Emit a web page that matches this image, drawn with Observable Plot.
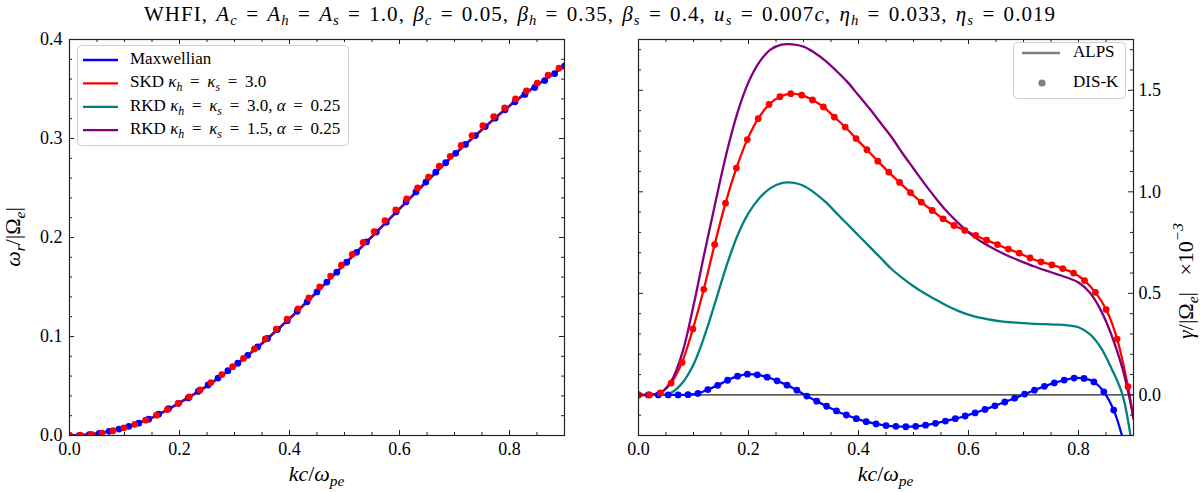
<!DOCTYPE html>
<html><head><meta charset="utf-8">
<script src="https://cdn.jsdelivr.net/npm/d3@7"></script>
<script src="https://cdn.jsdelivr.net/npm/@observablehq/plot@0.6"></script>
<style>
body{margin:0;background:#fff;}
#wrap{position:relative;width:1200px;height:492px;overflow:hidden;font-family:"Liberation Serif",serif;color:#000;}
#titlebox{position:absolute;left:0;top:2px;width:1200px;text-align:center;}
#title{display:inline-block;font-size:21px;white-space:nowrap;}
#title sub{font-size:0.7em;vertical-align:-0.3em;line-height:0;}
#left,#right{position:absolute;top:28px;}
#left{left:0px}
#right{left:600px}
</style></head><body>
<div id="wrap">
<div id="titlebox"><span id="title">WHFI, <i>A</i><sub><i>c</i></sub> = <i>A</i><sub><i>h</i></sub> = <i>A</i><sub><i>s</i></sub> = 1.0, <i>β</i><sub><i>c</i></sub> = 0.05, <i>β</i><sub><i>h</i></sub> = 0.35, <i>β</i><sub><i>s</i></sub> = 0.4, <i>u</i><sub><i>s</i></sub> = 0.007<i>c</i>, <i>η</i><sub><i>h</i></sub> = 0.033, <i>η</i><sub><i>s</i></sub> = 0.019</span></div>
<div id="left"></div><div id="right"></div>
</div>
<script>
// ---------- data: real frequency (left panel) ----------
const kLine = [0,0.05,0.1,0.15,0.2,0.25,0.3,0.35,0.4,0.45,0.5,0.55,0.6,0.65,0.7,0.75,0.8,0.85,0.9];
const wMaxwellian = [0,0.002,0.008,0.018,0.033,0.050,0.070,0.093,0.118,0.145,0.173,0.201,0.229,0.257,0.284,0.309,0.333,0.354,0.373];
const wSKD = [0,0.002,0.008,0.018,0.033,0.050,0.070,0.093,0.118,0.145,0.173,0.201,0.229,0.257,0.284,0.309,0.333,0.354,0.373];
const wRKD3 = [0,0.002,0.008,0.018,0.033,0.050,0.070,0.093,0.118,0.145,0.173,0.201,0.229,0.257,0.284,0.309,0.333,0.354,0.373];
const wRKD15 = [0,0.002,0.008,0.018,0.033,0.050,0.070,0.093,0.118,0.145,0.173,0.201,0.229,0.257,0.284,0.309,0.333,0.354,0.373];

// DIS-K sample points
const kDotsMax = [0,0.018,0.036,0.054,0.072,0.09,0.108,0.126,0.144,0.162,0.18,0.198,0.216,0.234,0.252,0.27,0.288,0.306,0.324,0.342,0.36,0.378,0.396,0.414,0.432,0.45,0.468,0.486,0.504,0.522,0.54,0.558,0.576,0.594,0.612,0.63,0.648,0.666,0.684,0.702,0.72,0.738,0.756,0.774,0.792,0.81,0.828,0.846,0.864,0.882,0.9];
const wDotsMax = [0,0.0002,0.0008,0.002,0.0042,0.0065,0.0093,0.0125,0.0165,0.0215,0.027,0.0325,0.038,0.0445,0.051,0.058,0.0655,0.073,0.081,0.0895,0.098,0.107,0.116,0.1255,0.135,0.145,0.155,0.165,0.175,0.185,0.1955,0.2055,0.2155,0.226,0.236,0.246,0.256,0.266,0.2755,0.285,0.294,0.303,0.312,0.3205,0.329,0.337,0.3445,0.3515,0.3585,0.3655,0.373];
const kDotsSKD = [0,0.0198,0.0396,0.0593,0.0791,0.0989,0.1187,0.1384,0.1582,0.178,0.1978,0.2176,0.2373,0.2571,0.2769,0.2967,0.3164,0.3362,0.356,0.3758,0.3956,0.4153,0.4351,0.4549,0.4747,0.4944,0.5142,0.534,0.5538,0.5736,0.5933,0.6131,0.6329,0.6527,0.6724,0.6922,0.712,0.7318,0.7516,0.7713,0.7911,0.8109,0.8307,0.8504,0.8702,0.89];
const wDotsSKD = [0,0.0003,0.001,0.0024,0.0048,0.0078,0.0113,0.0155,0.0205,0.0262,0.0325,0.039,0.046,0.0535,0.0615,0.0695,0.078,0.0875,0.0975,0.1075,0.1175,0.128,0.139,0.15,0.161,0.172,0.183,0.195,0.206,0.217,0.228,0.239,0.25,0.261,0.272,0.282,0.293,0.303,0.313,0.322,0.331,0.34,0.348,0.356,0.364,0.371];

// ---------- data: growth rate (right panel, x 1e-3) ----------
const kGrowth = [0,0.02,0.04,0.06,0.08,0.1,0.12,0.14,0.16,0.18,0.2,0.22,0.24,0.26,0.28,0.3,0.32,0.34,0.36,0.38,0.4,0.42,0.44,0.46,0.48,0.5,0.52,0.54,0.56,0.58,0.6,0.62,0.64,0.66,0.68,0.7,0.72,0.74,0.76,0.78,0.8,0.82,0.84,0.86,0.88,0.9];
const gRKD3 = [0,0,0,0.012,0.06,0.15,0.29,0.46,0.635,0.785,0.895,0.97,1.018,1.043,1.045,1.03,0.995,0.95,0.895,0.84,0.785,0.73,0.675,0.62,0.575,0.535,0.5,0.47,0.44,0.415,0.395,0.38,0.37,0.362,0.357,0.353,0.35,0.348,0.346,0.342,0.333,0.3,0.235,0.13,0.0,-0.3];
const gRKD15 = [0,0,0.01,0.07,0.21,0.44,0.7,0.95,1.19,1.39,1.54,1.64,1.7,1.725,1.726,1.715,1.685,1.645,1.595,1.54,1.475,1.41,1.34,1.27,1.19,1.115,1.04,0.97,0.905,0.85,0.8,0.76,0.728,0.7,0.675,0.653,0.632,0.613,0.595,0.577,0.553,0.505,0.42,0.295,0.13,-0.11];
const gDotsMax = [0,0,0,0,0,0.001,0.007,0.026,0.047,0.072,0.092,0.102,0.099,0.087,0.069,0.048,0.023,-0.006,-0.031,-0.056,-0.079,-0.099,-0.117,-0.132,-0.143,-0.151,-0.155,-0.157,-0.155,-0.149,-0.14,-0.129,-0.117,-0.104,-0.089,-0.072,-0.054,-0.035,-0.016,0.004,0.023,0.042,0.059,0.073,0.083,0.081,0.064,0.015,-0.075,-0.23,-0.45];
const gDotsSKD = [0,0,0.01,0.058,0.16,0.325,0.52,0.74,0.944,1.117,1.257,1.36,1.43,1.468,1.483,1.476,1.452,1.418,1.368,1.319,1.262,1.207,1.151,1.097,1.046,0.996,0.949,0.908,0.867,0.834,0.81,0.785,0.762,0.74,0.718,0.698,0.674,0.655,0.64,0.622,0.6,0.563,0.505,0.42,0.275,0.04];
const kSKDTail = [0.9];
const gSKDTail = [-0.12];

// ---------- ticks & labels ----------
const xMajor = [0,0.2,0.4,0.6,0.8];
const xMinor = [0.05,0.1,0.15,0.25,0.3,0.35,0.45,0.5,0.55,0.65,0.7,0.75,0.85];
const wMajor = [0,0.1,0.2,0.3,0.4];
const wMinor = [0.02,0.04,0.06,0.08,0.12,0.14,0.16,0.18,0.22,0.24,0.26,0.28,0.32,0.34,0.36,0.38];
const gMajor = [0,0.5,1.0,1.5];
const gMinor = [-0.1,0.1,0.2,0.3,0.4,0.6,0.7,0.8,0.9,1.1,1.2,1.3,1.4,1.6,1.7];
const seriesNames = ["Maxwellian","SKD","RKD3","RKD15"];
const seriesColors = ["#0000ff","#ff0000","#008080","#800080"];
const methodNames = ["ALPS","DIS-K"];

const zip = (xs, ys) => xs.map((x, i) => ({x, y: ys[i]}));

const W = 600, H = 464, MT = 11, MB = 57;
const PH = H - MT - MB;
const TK = "#222";
const fmt = d3.format(".1f");
const EQ = "\u2009=\u2009";

// stretch title to the reference's width (wider Computer-Modern-like look)
{
  const t = document.getElementById("title");
  const txt = t.textContent;
  const nSpaces = (txt.match(/ /g) || []).length;
  const nChars = txt.length;
  t.style.wordSpacing = "2px";
  const w0 = t.getBoundingClientRect().width;
  t.style.letterSpacing = Math.max(0, (912 - w0) / nChars) + "px";
}

function tickMarks(yMaj, yMin, PW) {
  return [
    Plot.tickX(xMajor, {x: d => d, stroke: TK, insetTop: PH - 5}),
    Plot.tickX(xMinor, {x: d => d, stroke: TK, insetTop: PH - 3}),
    Plot.tickX(xMajor, {x: d => d, stroke: TK, insetBottom: PH - 5}),
    Plot.tickX(xMinor, {x: d => d, stroke: TK, insetBottom: PH - 3}),
    Plot.tickY(yMaj, {y: d => d, stroke: TK, insetRight: PW - 5}),
    Plot.tickY(yMin, {y: d => d, stroke: TK, insetRight: PW - 3}),
    Plot.tickY(yMaj, {y: d => d, stroke: TK, insetLeft: PW - 5}),
    Plot.tickY(yMin, {y: d => d, stroke: TK, insetLeft: PW - 3})
  ];
}

function mathText(g, x, y, parts, size, opts = {}) {
  const t = g.append("text")
    .attr("transform", `translate(${x},${y}) rotate(${opts.rotate || 0})`)
    .attr("text-anchor", opts.anchor || "middle")
    .attr("dominant-baseline", "middle")
    .attr("font-family", "Liberation Serif, serif")
    .attr("font-size", size)
    .attr("fill", "#000")
    .attr("xml:space", "preserve");
  let cur = 0;
  for (const [s, st] of parts) {
    const want = st === "s" ? 0.28 * size : st === "S" ? -0.42 * size : 0;
    const ts = t.append("tspan").text(s).attr("dy", want - cur);
    cur = want;
    if (st === "i" || st === "s" || st === "S") ts.attr("font-style", "italic");
    if (st === "s" || st === "S") ts.attr("font-size", size * 0.7);
  }
  return t;
}

// ---------- left panel ----------
const PWL = W - 69 - 36;
const left = Plot.plot({
  width: W, height: H, marginLeft: 69, marginRight: 36, marginTop: MT, marginBottom: MB,
  style: {fontFamily: "Liberation Serif, serif", fontSize: "18px", color: "#000", background: "transparent"},
  x: {domain: [0, 0.9]},
  y: {domain: [0, 0.4]},
  marks: [
    Plot.line(zip(kLine, wMaxwellian), {x: "x", y: "y", stroke: seriesColors[0], strokeWidth: 2.3, curve: "catmull-rom", clip: true}),
    Plot.line(zip(kLine, wSKD), {x: "x", y: "y", stroke: seriesColors[1], strokeWidth: 2.3, curve: "catmull-rom", clip: true}),
    Plot.line(zip(kLine, wRKD3), {x: "x", y: "y", stroke: seriesColors[2], strokeWidth: 2.3, curve: "catmull-rom", clip: true}),
    Plot.line(zip(kLine, wRKD15), {x: "x", y: "y", stroke: seriesColors[3], strokeWidth: 2.3, curve: "catmull-rom", clip: true}),
    Plot.dot(zip(kDotsMax, wDotsMax), {x: "x", y: "y", fill: seriesColors[0], r: 3.4, clip: true}),
    Plot.dot(zip(kDotsSKD, wDotsSKD), {x: "x", y: "y", fill: seriesColors[1], r: 3.4, clip: true}),
    ...tickMarks(wMajor, wMinor, PWL),
    Plot.axisX(xMajor, {tickSize: 0, tickPadding: 7, tickFormat: fmt, label: null}),
    Plot.axisY(wMajor, {anchor: "left", tickSize: 0, tickPadding: 7, tickFormat: fmt, label: null}),
    Plot.frame({stroke: TK, strokeWidth: 1.2})
  ]
});
document.getElementById("left").appendChild(left);
{
  const g = d3.select(left);
  mathText(g, 316.5, 448, [["kc","i"],["/"],["ω","i"],["pe","s"]], 22);
  mathText(g, 15, 209, [["ω","i"],["r","s"],["/|Ω"],["e","s"],["|"]], 22, {rotate: -90});
  // legend
  const lg = g.append("g");
  lg.append("rect").attr("x", 77.5).attr("y", 17.5).attr("width", 271).attr("height", 100).attr("rx", 4)
    .attr("fill", "#fff").attr("fill-opacity", 0.8).attr("stroke", "#d0d0d0");
  const rows = [
    [["Maxwellian"]],
    [["SKD "],["κ","i"],["h","s"],[" " + EQ + " "],["κ","i"],["s","s"],[" " + EQ + " 3.0"]],
    [["RKD "],["κ","i"],["h","s"],[" " + EQ + " "],["κ","i"],["s","s"],[" " + EQ + " 3.0, "],["α","i"],[" " + EQ + " 0.25"]],
    [["RKD "],["κ","i"],["h","s"],[" " + EQ + " "],["κ","i"],["s","s"],[" " + EQ + " 1.5, "],["α","i"],[" " + EQ + " 0.25"]]
  ];
  seriesNames.forEach((n, i) => {
    const yy = 32 + i * 23.4;
    lg.append("line").attr("x1", 83).attr("x2", 118).attr("y1", yy).attr("y2", yy)
      .attr("stroke", seriesColors[i]).attr("stroke-width", 2.3);
    mathText(lg, 130, yy, rows[i], 17, {anchor: "start"});
  });
}

// ---------- right panel ----------
const PWR = W - 38 - 67;
const right = Plot.plot({
  width: W, height: H, marginLeft: 38, marginRight: 67, marginTop: MT, marginBottom: MB,
  style: {fontFamily: "Liberation Serif, serif", fontSize: "18px", color: "#000", background: "transparent"},
  x: {domain: [0, 0.9]},
  y: {domain: [-0.2, 1.75]},
  marks: [
    Plot.ruleY([0], {stroke: "#222", strokeWidth: 1.3}),
    Plot.line(zip(kDotsMax, gDotsMax), {x: "x", y: "y", stroke: seriesColors[0], strokeWidth: 2.3, curve: "catmull-rom", clip: true}),
    Plot.line(zip(kDotsSKD.concat(kSKDTail), gDotsSKD.concat(gSKDTail)), {x: "x", y: "y", stroke: seriesColors[1], strokeWidth: 2.3, curve: "catmull-rom", clip: true}),
    Plot.line(zip(kGrowth, gRKD3), {x: "x", y: "y", stroke: seriesColors[2], strokeWidth: 2.3, curve: "catmull-rom", clip: true}),
    Plot.line(zip(kGrowth, gRKD15), {x: "x", y: "y", stroke: seriesColors[3], strokeWidth: 2.3, curve: "catmull-rom", clip: true}),
    Plot.dot(zip(kDotsMax, gDotsMax), {x: "x", y: "y", fill: seriesColors[0], r: 3.4, clip: true}),
    Plot.dot(zip(kDotsSKD, gDotsSKD), {x: "x", y: "y", fill: seriesColors[1], r: 3.4, clip: true}),
    ...tickMarks(gMajor, gMinor, PWR),
    Plot.axisX(xMajor, {tickSize: 0, tickPadding: 7, tickFormat: fmt, label: null}),
    Plot.axisY(gMajor, {anchor: "right", tickSize: 0, tickPadding: 5, tickFormat: fmt, label: null}),
    Plot.frame({stroke: TK, strokeWidth: 1.2})
  ]
});
document.getElementById("right").appendChild(right);
{
  const g = d3.select(right);
  mathText(g, 285.5, 448, [["kc","i"],["/"],["ω","i"],["pe","s"]], 22);
  mathText(g, 588, 253, [["γ","i"],["/|Ω"],["e","s"],["|   ×10"],["−3","S"]], 22, {rotate: -90});
  const lg = g.append("g");
  lg.append("rect").attr("x", 413.5).attr("y", 14.5).attr("width", 112).attr("height", 56).attr("rx", 4)
    .attr("fill", "#fff").attr("fill-opacity", 0.8).attr("stroke", "#d0d0d0");
  lg.append("line").attr("x1", 422).attr("x2", 460).attr("y1", 25).attr("y2", 25)
    .attr("stroke", "#7f7f7f").attr("stroke-width", 2.3);
  lg.append("circle").attr("cx", 442).attr("cy", 55).attr("r", 3.6).attr("fill", "#7f7f7f");
  mathText(lg, 473, 25, [[methodNames[0]]], 17, {anchor: "start"});
  mathText(lg, 473, 55, [[methodNames[1]]], 17, {anchor: "start"});
}
</script>
</body></html>
